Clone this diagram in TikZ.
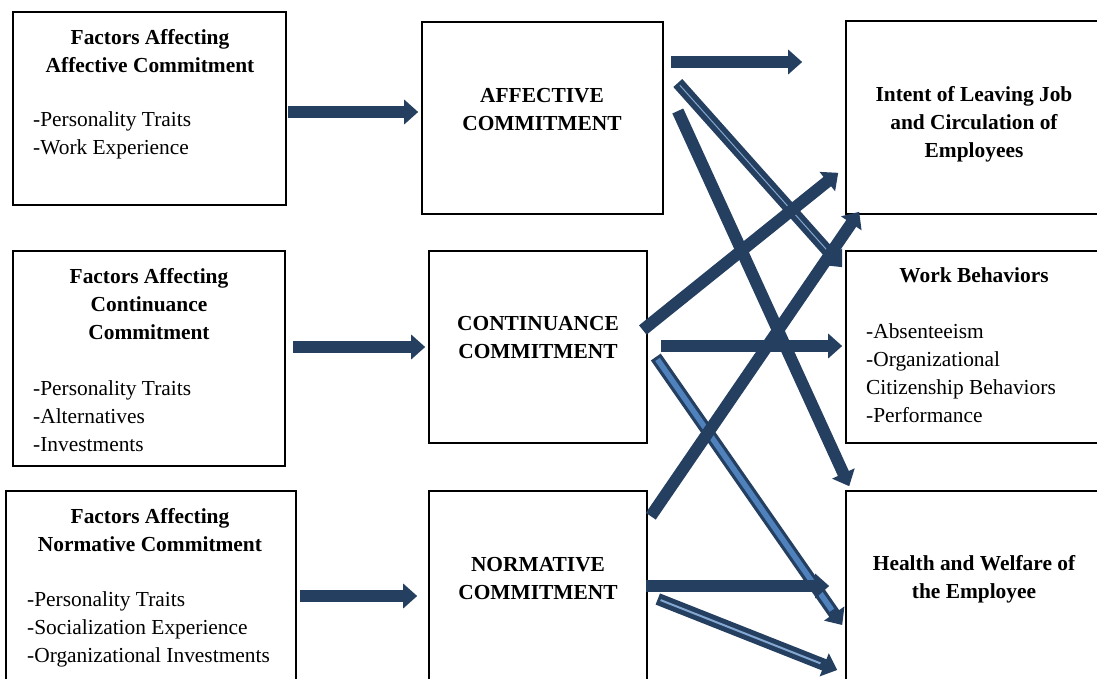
\documentclass[tikz,border=0pt]{standalone}
\usepackage{fontspec}
\setmainfont{Liberation Serif}
\usetikzlibrary{arrows.meta}

\definecolor{navy}{HTML}{243F60}
\definecolor{lightnavy}{HTML}{4F81BD}

\tikzset{
  box/.style={draw, line width=1.6pt, inner sep=0pt},
  headtext/.style={font=\fontsize{21.4}{28}\selectfont\bfseries, align=center, inner sep=0pt},
  listtext/.style={font=\fontsize{21.4}{28}\selectfont, align=left, inner sep=0pt, anchor=west},
  blockarrow/.style={navy, line width=12pt, -{Triangle[width=24pt,length=14pt]}},
  innerline/.style={lightnavy, line width=5.5pt, shorten >=18pt, shorten <=3pt},
  thinline/.style={lightnavy!70, line width=1pt, shorten >=18pt, shorten <=3pt},
}

\begin{document}
\begin{tikzpicture}[x=1pt,y=-1pt]

  % page frame
  \useasboundingbox (0,0) rectangle (1097,678);
  \clip (0,0) rectangle (1097,678);

  % Factor boxes on the left
  \node[box, minimum width=273pt, minimum height=193pt] (fa) at (149.5,108.5) {};
  \node[box, minimum width=272pt, minimum height=215pt] (fc) at (149,358.5) {};
  \node[box, minimum width=290pt, minimum height=230pt] (fn) at (151,606) {};

  % Commitment boxes in the middle
  \node[box, minimum width=241pt, minimum height=192pt] (aff) at (542.5,118) {};
  \node[box, minimum width=218pt, minimum height=192pt] (con) at (538,347) {};
  \node[box, minimum width=218pt, minimum height=230pt] (nor) at (538,606) {};

  % Outcome boxes on the right
  \node[box, minimum width=274pt, minimum height=193pt] (intent) at (983,117.5) {};
  \node[box, minimum width=274pt, minimum height=192pt] (work) at (983,347) {};
  \node[box, minimum width=274pt, minimum height=230pt] (health) at (983,606) {};

  % Texts
  \node[headtext] (fahead) at (150,51) {Factors Affecting\\Affective Commitment};
  \node[listtext] (falist) at (33,135) {-Personality Traits\\-Work Experience};

  \node[headtext] (fchead) at (149,304) {Factors Affecting\\Continuance\\Commitment};
  \node[listtext] (fclist) at (33,416) {-Personality Traits\\-Alternatives\\-Investments};

  \node[headtext] (fnhead) at (150,530) {Factors Affecting\\Normative Commitment};
  \node[listtext] (fnlist) at (27,629) {-Personality Traits\\-Socialization Experience\\-Organizational Investments};

  \node[headtext] (afftext) at (542,110) {AFFECTIVE\\COMMITMENT};
  \node[headtext] (context) at (538,338) {CONTINUANCE\\COMMITMENT};
  \node[headtext] (nortext) at (538,579) {NORMATIVE\\COMMITMENT};

  \node[headtext] (intenttext) at (974,124.5) {Intent of Leaving Job\\and Circulation of\\Employees};
  \node[headtext] (workhead) at (974,275) {Work Behaviors};
  \node[listtext] (worklist) at (866,373.5) {-Absenteeism\\-Organizational\\Citizenship Behaviors\\-Performance};
  \node[headtext] (healthtext) at (974,579) {Health and Welfare of\\the Employee};

  % Arrows from factors to commitments
  \draw[blockarrow] ([xshift=1pt,yshift=-3.5pt]fa.east) -- ([xshift=-3pt,yshift=6pt]aff.west);
  \draw[blockarrow] ([xshift=7pt,yshift=11.5pt]fc.east) -- ([xshift=-3pt]con.west);
  \draw[blockarrow] ([xshift=3pt,yshift=10pt]fn.east) -- ([xshift=-11pt,yshift=10pt]nor.west);

  % Arrows from affective commitment
  \draw[blockarrow] ([xshift=7pt,yshift=56pt]aff.east) -- ([xshift=-43pt,yshift=55.5pt]intent.west);
  \draw[blockarrow] ([xshift=14pt,yshift=35pt]aff.east) -- ([xshift=-3pt,yshift=-17pt]work.north west);
  \draw[thinline] ([xshift=14pt,yshift=35pt]aff.east) -- ([xshift=-3pt,yshift=-17pt]work.north west);
  \draw[blockarrow] ([xshift=14pt,yshift=7pt]aff.east) -- ([xshift=4pt,yshift=4pt]health.north west);

  % Arrows from continuance commitment
  \draw[blockarrow] ([xshift=-5pt,yshift=17pt]con.east) -- ([xshift=-7pt,yshift=42pt]intent.south west);
  \draw[blockarrow] ([xshift=13pt,yshift=1pt]con.east) -- ([xshift=-3pt,yshift=1pt]work.west);
  \draw[blockarrow] ([xshift=8pt,yshift=-10pt]con.east) -- ([xshift=-3pt,yshift=-19pt]health.west);
  \draw[innerline] ([xshift=8pt,yshift=-10pt]con.east) -- ([xshift=-3pt,yshift=-19pt]health.west);

  % Arrows from normative commitment
  \draw[blockarrow] ([xshift=3pt,yshift=-26pt]nor.north east) -- ([xshift=14pt,yshift=3pt]intent.south west);
  \draw[blockarrow] ([xshift=-2pt,yshift=20pt]nor.east) -- ([xshift=-16pt,yshift=20pt]health.west);
  \draw[blockarrow] ([xshift=10pt,yshift=7pt]nor.east) -- ([xshift=-8pt,yshift=-64pt]health.west);
  \draw[thinline, line width=2pt] ([xshift=10pt,yshift=7pt]nor.east) -- ([xshift=-8pt,yshift=-64pt]health.west);

\end{tikzpicture}
\end{document}
